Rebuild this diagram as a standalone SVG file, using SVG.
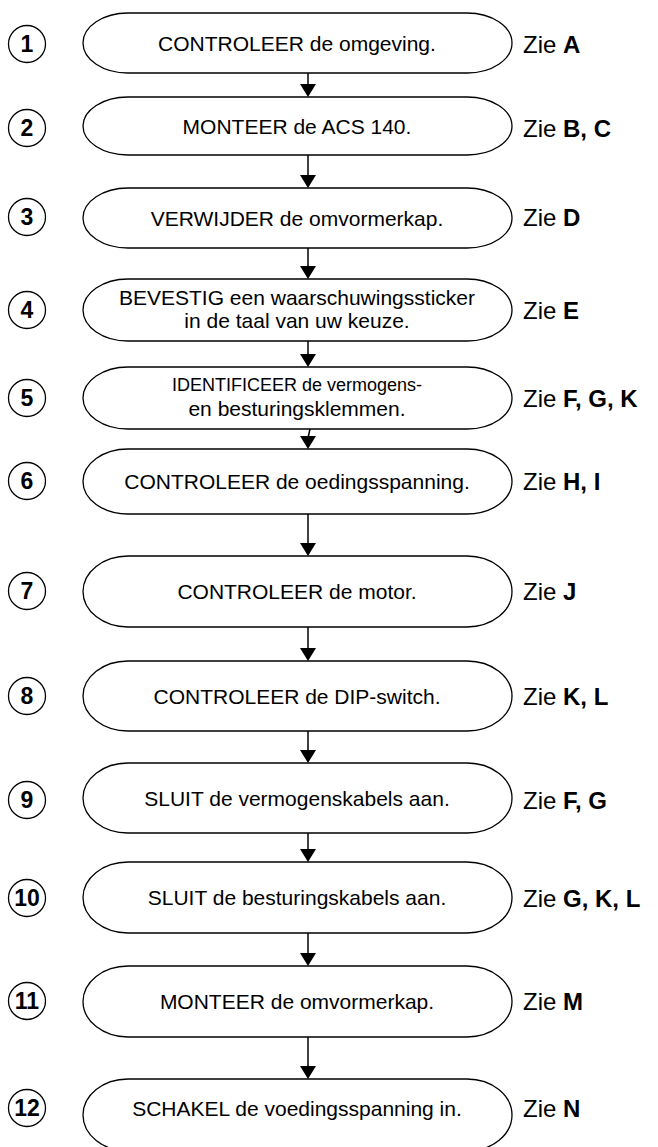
<svg xmlns="http://www.w3.org/2000/svg" width="658" height="1147" viewBox="0 0 658 1147">
<style>
.box{fill:#fff;stroke:#000;stroke-width:1.3}
.num{fill:#fff;stroke:#000;stroke-width:1.3}
.t{font-family:"Liberation Sans",Arial,sans-serif;font-size:21px;fill:#000;text-anchor:middle}
.s{font-size:18px}
.n{font-family:"Liberation Sans",Arial,sans-serif;font-size:23px;font-weight:bold;fill:#000;text-anchor:middle}
.z{font-family:"Liberation Sans",Arial,sans-serif;font-size:24px;fill:#000}
.z tspan{font-weight:bold}
.c{stroke:#000;stroke-width:1.5;fill:none}
.h{fill:#000}
</style>
<g id="connectors">
<line class="c" x1="308" y1="72" x2="308" y2="86"/>
<path class="h" d="M300,84 L316,84 L308,97 z"/>
<line class="c" x1="308" y1="155" x2="308" y2="177"/>
<path class="h" d="M300,175 L316,175 L308,188 z"/>
<line class="c" x1="308" y1="248" x2="308" y2="268"/>
<path class="h" d="M300,266 L316,266 L308,279 z"/>
<line class="c" x1="308" y1="341" x2="308" y2="356"/>
<path class="h" d="M300,354 L316,354 L308,367 z"/>
<line class="c" x1="310" y1="429" x2="308" y2="438"/>
<path class="h" d="M300,436 L316,436 L308,449 z"/>
<line class="c" x1="308" y1="514" x2="308" y2="545"/>
<path class="h" d="M300,543 L316,543 L308,556 z"/>
<line class="c" x1="308" y1="627" x2="308" y2="650"/>
<path class="h" d="M300,648 L316,648 L308,661 z"/>
<line class="c" x1="308" y1="731" x2="308" y2="752"/>
<path class="h" d="M300,750 L316,750 L308,763 z"/>
<line class="c" x1="308" y1="833" x2="308" y2="851"/>
<path class="h" d="M300,849 L316,849 L308,862 z"/>
<line class="c" x1="308" y1="933" x2="308" y2="955"/>
<path class="h" d="M300,953 L316,953 L308,966 z"/>
<line class="c" x1="308" y1="1037" x2="308" y2="1068"/>
<path class="h" d="M300,1066 L316,1066 L308,1079 z"/>
</g>
<g id="step1"><circle class="num" cx="27" cy="44" r="18.5"/><text class="n" x="27" y="52">1</text>
<rect class="box" x="83" y="13" width="429" height="60" rx="45" ry="30"/><text class="t" x="297" y="50.5">CONTROLEER de omgeving.</text>
<text class="z" x="523" y="52.5">Zie <tspan>A</tspan></text></g>
<g id="step2"><circle class="num" cx="27" cy="128" r="18.5"/><text class="n" x="27" y="136">2</text>
<rect class="box" x="83" y="97" width="429" height="58" rx="45" ry="29"/><text class="t" x="297" y="133.5">MONTEER de ACS 140.</text>
<text class="z" x="523" y="136.5">Zie <tspan>B, C</tspan></text></g>
<g id="step3"><circle class="num" cx="27" cy="217" r="18.5"/><text class="n" x="27" y="225">3</text>
<rect class="box" x="83" y="188" width="429" height="60" rx="45" ry="30"/><text class="t" x="297" y="225.5">VERWIJDER de omvormerkap.</text>
<text class="z" x="523" y="225.5">Zie <tspan>D</tspan></text></g>
<g id="step4"><circle class="num" cx="27" cy="310" r="18.5"/><text class="n" x="27" y="318">4</text>
<rect class="box" x="83" y="279" width="429" height="62" rx="45" ry="31"/><text class="t" x="297" y="305">BEVESTIG een waarschuwingssticker</text><text class="t" x="297" y="328">in de taal van uw keuze.</text>
<text class="z" x="523" y="318.5">Zie <tspan>E</tspan></text></g>
<g id="step5"><circle class="num" cx="27" cy="398" r="18.5"/><text class="n" x="27" y="406">5</text>
<rect class="box" x="83" y="367" width="429" height="62" rx="45" ry="31"/><text class="t s" x="297" y="391">IDENTIFICEER de vermogens-</text><text class="t" x="297" y="416">en besturingsklemmen.</text>
<text class="z" x="523" y="406.5">Zie <tspan>F, G, K</tspan></text></g>
<g id="step6"><circle class="num" cx="27" cy="481" r="18.5"/><text class="n" x="27" y="489">6</text>
<rect class="box" x="83" y="449" width="429" height="65" rx="45" ry="32.5"/><text class="t" x="297" y="488.5">CONTROLEER de oedingsspanning.</text>
<text class="z" x="523" y="489.5">Zie <tspan>H, I</tspan></text></g>
<g id="step7"><circle class="num" cx="27" cy="591" r="18.5"/><text class="n" x="27" y="599">7</text>
<rect class="box" x="83" y="556" width="429" height="71" rx="45" ry="35.5"/><text class="t" x="297" y="598.5">CONTROLEER de motor.</text>
<text class="z" x="523" y="599.5">Zie <tspan>J</tspan></text></g>
<g id="step8"><circle class="num" cx="27" cy="696" r="18.5"/><text class="n" x="27" y="704">8</text>
<rect class="box" x="83" y="661" width="429" height="70" rx="45" ry="35"/><text class="t" x="297" y="703.5">CONTROLEER de DIP-switch.</text>
<text class="z" x="523" y="704.5">Zie <tspan>K, L</tspan></text></g>
<g id="step9"><circle class="num" cx="27" cy="800" r="18.5"/><text class="n" x="27" y="808">9</text>
<rect class="box" x="83" y="763" width="429" height="70" rx="45" ry="35"/><text class="t" x="297" y="805.5">SLUIT de vermogenskabels aan.</text>
<text class="z" x="523" y="808.5">Zie <tspan>F, G</tspan></text></g>
<g id="step10"><circle class="num" cx="27" cy="898" r="18.5"/><text class="n" x="27" y="906">10</text>
<rect class="box" x="83" y="862" width="429" height="71" rx="45" ry="35.5"/><text class="t" x="297" y="904.5">SLUIT de besturingskabels aan.</text>
<text class="z" x="523" y="906.5">Zie <tspan>G, K, L</tspan></text></g>
<g id="step11"><circle class="num" cx="27" cy="1001" r="18.5"/><text class="n" x="27" y="1009">11</text>
<rect class="box" x="83" y="966" width="429" height="71" rx="45" ry="35.5"/><text class="t" x="297" y="1008.5">MONTEER de omvormerkap.</text>
<text class="z" x="523" y="1009.5">Zie <tspan>M</tspan></text></g>
<g id="step12"><circle class="num" cx="27" cy="1108" r="18.5"/><text class="n" x="27" y="1116">12</text>
<rect class="box" x="83" y="1079" width="429" height="72" rx="45" ry="36"/><text class="t" x="297" y="1115.5">SCHAKEL de voedingsspanning in.</text>
<text class="z" x="523" y="1116.5">Zie <tspan>N</tspan></text></g>
</svg>
